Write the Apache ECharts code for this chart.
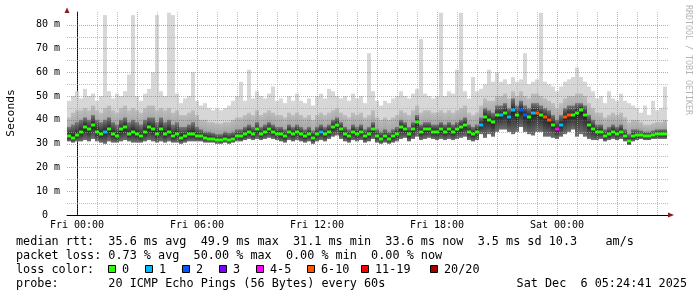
<!DOCTYPE html>
<html><head><meta charset="utf-8">
<script src="https://cdn.jsdelivr.net/npm/echarts@6/dist/echarts.min.js"></script>
<style>html,body{margin:0;padding:0;background:#fff}#c{width:697px;height:297px}</style>
</head><body><div id="c"></div>
<script>
// time axis: hours relative to Fri 00:00, one sample every 12 minutes
const T0 = -0.5, STEP = 0.2;
const medianMs = [33,32.5,33.5, 35,37,36,38,35, 34,35,36,34,33, 36,37,34,35,34, 33,35,37,36,34, 36,34,35,33,34, 32.5,33,34,34,33, 33,32.5,32,32,31.5, 31.5,32,31.5,32,33, 33,34,35,34,36, 34,35,36,35,34, 34,33,35,34,35, 34,33,34,32.5,34, 35,34,35,37,38, 36,34,33,35,34, 35,33,34,36,33, 32,33,32,33,34, 37,36,34,36,39, 35,36,36,35,35, 36,35,36,35,36, 37,38,35,34,35, 38,41,40,39,42, 42,43,41,44,42, 44,42,41,43,43, 42,41,40,38,36, 38,41,42,42,43, 44,42,38,36,35, 35,33,34,35,34, 35,33,31,33,33.5, 33.5,33,33,33.5,34, 34,34];
const smokeLo = [31,30.5,31, 31,31.5,31,32,31, 30.5,30,31,30.5,30.5, 31,31.5,31,30.5,30.5, 30.5,31,31.5,31,30.5, 31,30.5,31,30.5,30.5, 30,30.5,31,31,31, 31,30.5,30.5,30.5,30, 30,30.5,30,30.5,31, 31,31.5,32,31.5,32, 31.5,32,32.5,32,31.5, 31,30.5,31.5,31,31.5, 31,30.5,31,30,31, 31.5,31,32,33,33.5, 32,31,30.5,31.5,31, 31.5,30.5,31,32,30.5, 30,30.5,30,30.5,31, 32,32.5,31,32,33, 31.5,32,32.5,32,31.5, 32,31.5,32,31.5,32, 32.5,33,31.5,31,31.5, 34,32.5,34,33,35, 36,36,35,34,35, 37,35,34,33.5,35, 35,33,33,32.5,32, 33,34,35,36,33, 34,33,32,31.5,31.5, 32,31,31.5,32,31.5, 32,31,29.5,31,31.5, 32,31.5,31.5,32,32, 32,32];
const smokeDark = [37,38,39, 40,41,40,42,40, 39,40,41,39,38, 40,41,39,40,39, 38,40,41,41,39, 41,39,40,38,39, 37,37,38,39,37, 36,35,35,34.5,34, 34,35,34.5,35,36, 36,37,38,37,39, 37,38,39,38,37, 37,36,38,37,38, 37,36,37,35.5,37, 38,37,38,40,41, 39,37,36,38,37, 38,36,37,39,36, 35,36,35,36,37, 40,39,37,39,42, 38,39,39,38,38, 39,38,39,38,39, 40,41,38,37,38, 41,45,44,43,46, 46,47,45,49,46, 48,46,45,47,47, 46,45,44,42,40, 42,45,46,46,47, 47,46,42,40,38, 38,36,37,38,37, 38,36,34,36,36, 35.5,35,35,35.5,36, 36,36];
const smokeMid = [41,43,44, 44,45,44,46,44, 43,45,46,44,43, 45,46,44,45,44, 43,45,46,46,44, 45,44,45,43,44, 42,42,43,44,42, 40,40,39,39,38.5, 38.5,39,39,40,41, 41,42,43,42,44, 42,43,44,43,42, 42,41,43,42,43, 42,41,42,40,42, 43,42,43,44,45, 43,42,41,43,42, 43,41,42,44,41, 40,41,40,41,42, 44,43,42,44,46, 43,44,44,43,43, 44,43,44,43,44, 45,46,43,42,43, 46,49,48,48,50, 50,51,49,52,50, 52,50,49,51,51, 50,49,48,47,45, 47,49,50,50,51, 51,50,47,45,43, 43,41,42,43,42, 43,41,39,40,40, 39,38,38,38.5,39, 39,40];
const smokeHi = [48,50,52, 49,53,50,51,48, 50,84,52,49,51, 50,52,59,84,50, 48,51,53,60,84, 52,50,85,84,51, 47,49,50,60,48, 46,47,45,44,45, 44,45,46,48,50, 56,48,61,49,52, 50,49,51,54,48, 49,47,50,48,51, 48,47,49,46,50, 51,49,53,52,50, 49,50,48,51,49, 50,47,68,52,48, 46,48,47,49,50, 52,50,49,51,53, 74,51,50,49,50, 85,50,52,51,61, 85,52,49,58,52, 53,55,61,56,60, 56,57,55,58,56, 57,68,55,56,57, 85,56,55,54,52, 54,56,57,58,62, 58,56,54,52,49, 50,47,52,49,48, 51,48,47,46,45, 43,46,42,48,44, 45,54];
// [sample index, lost pings of 20]
const lossAt = [[9,1],[63,1],[103,1],[108,1],[110,1],[111,1],[113,2],[114,2],[116,1],[117,7],[119,7],[120,7],[122,4],[123,1],[124,7],[125,7]];

const xLabelHours = [0,6,12,18,24];
const xLabels = ['Fri 00:00','Fri 06:00','Fri 12:00','Fri 18:00','Sat 00:00'];
const yTicks = [0,10,20,30,40,50,60,70,80];
const yTickLabels = ['0  ','10 m','20 m','30 m','40 m','50 m','60 m','70 m','80 m'];
const lossLabels = ['0','1','2','3','4-5','6-10','11-19','20/20'];
const lossMin = [0,1,2,3,4,6,11,20];
const lossColors = ['#26ff00','#00b8ff','#0059ff','#7e00ff','#ff00ff','#ff5500','#ff0000','#a10000'];
const statLines = [
  'median rtt:  35.6 ms avg  49.9 ms max  31.1 ms min  33.6 ms now  3.5 ms sd 10.3    am/s',
  'packet loss: 0.73 % avg  50.00 % max  0.00 % min  0.00 % now',
  'loss color:',
  'probe:       20 ICMP Echo Pings (56 Bytes) every 60s'
];
const stampText = 'Sat Dec  6 05:24:41 2025';

const MONO = '"DejaVu Sans Mono", monospace';
function lossColor(n){ let c = lossColors[0]; for (let k=0;k<lossMin.length;k++) if (n>=lossMin[k]) c = lossColors[k]; return c; }
const lossMap = {}; lossAt.forEach(p => lossMap[p[0]] = p[1]);

const smokeData = medianMs.map((m,i)=>[T0+STEP*(i+0.5), smokeLo[i], smokeDark[i], smokeMid[i], smokeHi[i], m]);
const medData = medianMs.map((m,i)=>[T0+STEP*(i+0.5), m, lossMap[i]||0]);

const vLines = []; for (let h=0; h<=29; h++) vLines.push([h, h%3===0?1:0]);
const hLines = []; for (let v=5; v<=80; v+=5) hLines.push([v, v%10===0?1:0]);

const chart = echarts.init(document.getElementById('c'), null, {renderer:'canvas'});
const option = {
  animation:false,
  backgroundColor:'#ffffff',
  grid:{left:67, right:29, top:12, bottom:82},
  xAxis:{type:'value', min:-0.5, max:29.55,
    axisLine:{show:true, onZero:false, lineStyle:{color:'#000', width:1}},
    axisTick:{show:false}, splitLine:{show:false},
    axisLabel:{customValues:xLabelHours, formatter:v=>{const k=xLabelHours.indexOf(Math.round(v)); return k>=0?xLabels[k]:'';},
      fontFamily:MONO, fontSize:10, color:'#000', margin:5}},
  yAxis:{type:'value', min:0, max:85.3, interval:10,
    axisLine:{show:true, lineStyle:{color:'#000', width:1}},
    axisTick:{show:false}, splitLine:{show:false},
    axisLabel:{showMaxLabel:false, formatter:v=>{const k=yTicks.indexOf(Math.round(v)); return k>=0?yTickLabels[k]:'';},
      fontFamily:MONO, fontSize:10, color:'#000', margin:7}},
  series:[
    {type:'custom', z:2, clip:true, data:smokeData, renderItem:(params, api)=>{
      const t=api.value(0);
      const x0=api.coord([t-STEP/2,0])[0], x1=api.coord([t+STEP/2,0])[0];
      const yLo=api.coord([t,api.value(1)])[1], yD=api.coord([t,api.value(2)])[1],
            yM=api.coord([t,api.value(3)])[1], yH=api.coord([t,api.value(4)])[1], yMed=api.coord([t,api.value(5)])[1];
      let off=(yMed-yD)/Math.max(1,(yLo-yD)); off=Math.min(0.95,Math.max(0.05,off));
      return {type:'group', children:[
        {type:'rect', shape:{x:x0,y:yH,width:x1-x0,height:yLo-yH}, style:{fill:'#d7d7d7'}},
        {type:'rect', shape:{x:x0,y:yM,width:x1-x0,height:yLo-yM}, style:{fill:new echarts.graphic.LinearGradient(0,0,0,1,[
          {offset:0,color:'#bdbdbd'},{offset:1,color:'#8a8a8a'}])}},
        {type:'rect', shape:{x:x0,y:yD,width:x1-x0,height:yLo-yD}, style:{fill:new echarts.graphic.LinearGradient(0,0,0,1,[
          {offset:0,color:'#7a7a7a'},{offset:off,color:'#1e1e1e'},{offset:1,color:'#707070'}])}}
      ]};
    }},
    {type:'custom', z:3, silent:true, data:vLines, encode:{x:0}, renderItem:(params, api)=>{
      const h=api.value(0), major=api.value(1);
      const x=Math.round(api.coord([h,0])[0])+0.5;
      const yb=api.coord([h,0])[1], yt=api.coord([h,85.3])[1];
      return {type:'line', shape:{x1:x,y1:yb,x2:x,y2:yt}, style:{stroke: major?'rgba(205,70,70,0.55)':'rgba(165,165,165,0.7)', lineWidth:1, lineDash:[1,1]}};
    }},
    {type:'custom', z:3, silent:true, data:hLines, encode:{y:0}, renderItem:(params, api)=>{
      const v=api.value(0), major=api.value(1);
      const y=Math.round(api.coord([0,v])[1])+0.5;
      const xl=api.coord([-0.5,v])[0], xr=api.coord([29.55,v])[0];
      return {type:'line', shape:{x1:xl,y1:y,x2:xr,y2:y}, style:{stroke: major?'rgba(205,70,70,0.55)':'rgba(165,165,165,0.7)', lineWidth:1, lineDash:[1,1]}};
    }},
    {type:'custom', z:4, clip:true, data:medData, renderItem:(params, api)=>{
      const t=api.value(0);
      const x0=api.coord([t-STEP/2,0])[0], x1=api.coord([t+STEP/2,0])[0];
      const y=api.coord([t,api.value(1)])[1];
      return {type:'rect', shape:{x:x0,y:Math.round(y)-1.5,width:x1-x0,height:3}, style:{fill:lossColor(api.value(2))}};
    }}
  ],
  graphic:[]
};

const FONT = '11.8px '+MONO;
const g = [];
g.push({type:'polygon', shape:{points:[[64.5,13],[69.5,13],[67,7.5]]}, style:{fill:'#8b1a1a'}, z:100});
g.push({type:'polygon', shape:{points:[[668,212.5],[668,217.5],[674,215]]}, style:{fill:'#8b1a1a'}, z:100});
g.push({type:'text', x:11, y:113, rotation:Math.PI/2, style:{text:'Seconds', font:'11.3px '+MONO, fill:'#000', align:'center', verticalAlign:'middle'}});
g.push({type:'text', x:688, y:60, rotation:-Math.PI/2, style:{text:'RRDTOOL / TOBI OETIKER', font:'8.3px '+MONO, fill:'#b4b4b4', align:'center', verticalAlign:'middle'}});
const lineY = [241.5, 255.5, 269.5, 284];
statLines.forEach((s,k)=>g.push({type:'text', x:16, y:lineY[k], style:{text:s, font:FONT, fill:'#000', align:'left', verticalAlign:'middle'}}));
g.push({type:'text', x:687, y:lineY[3], style:{text:stampText, font:FONT, fill:'#000', align:'right', verticalAlign:'middle'}});
const boxX = [108,145,182,219,256,307,361,430];
const labX = [122,159,196,233,270,321,375,444];
lossLabels.forEach((l,k)=>{
  g.push({type:'rect', shape:{x:boxX[k]+0.5,y:265.5,width:7,height:7}, style:{fill:lossColors[k], stroke:'#000', lineWidth:1}});
  g.push({type:'text', x:labX[k], y:lineY[2], style:{text:l, font:FONT, fill:'#000', align:'left', verticalAlign:'middle'}});
});
option.graphic = g;
chart.setOption(option);
</script>
</body></html>
